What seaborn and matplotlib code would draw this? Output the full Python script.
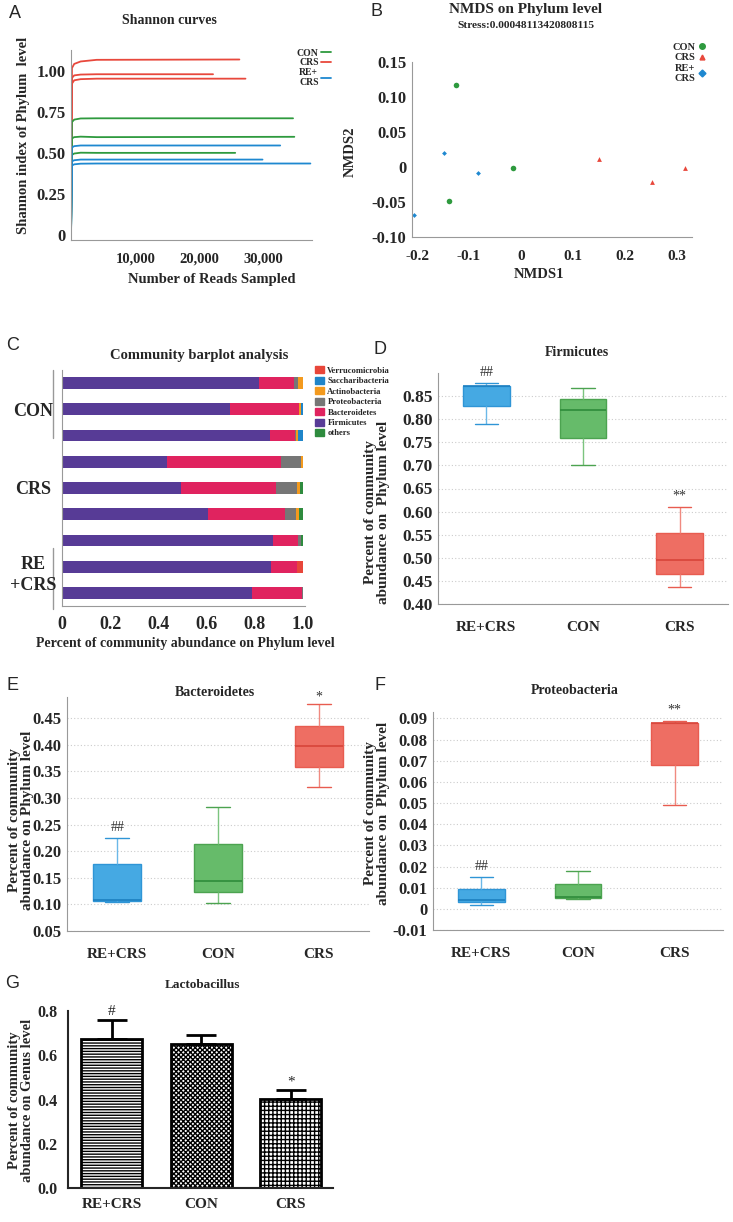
import numpy as np
import pandas as pd
import matplotlib
matplotlib.use("Agg")
import matplotlib.pyplot as plt
import seaborn as sns
from matplotlib.lines import Line2D
from matplotlib.patches import Patch

sns.set_style("white")
plt.rcParams['font.family'] = ['Liberation Serif', 'DejaVu Serif']
plt.rcParams['font.weight'] = 'bold'
plt.rcParams['axes.labelweight'] = 'bold'
plt.rcParams['hatch.linewidth'] = 1.0

# ---------------- data ----------------
# A: Shannon rarefaction curves (one list per sample)
shannon_group = ['CRS', 'CRS', 'CRS', 'CON', 'CON', 'CON', 'RE+CRS', 'RE+CRS', 'RE+CRS']
shannon_reads = [
    [0, 150, 500, 1500, 4000, 26200],
    [0, 150, 500, 1500, 4000, 22100],
    [0, 150, 500, 1500, 4000, 27150],
    [0, 150, 500, 1500, 4000, 34550],
    [0, 150, 500, 1500, 4000, 34750],
    [0, 150, 500, 1500, 4000, 25550],
    [0, 150, 500, 1500, 4000, 32550],
    [0, 150, 500, 1500, 4000, 29800],
    [0, 150, 500, 1500, 4000, 37250],
]
shannon_index = [
    [0, 1.02, 1.045, 1.06, 1.07, 1.072],
    [0, 0.96, 0.975, 0.98, 0.982, 0.982],
    [0, 0.925, 0.945, 0.952, 0.955, 0.955],
    [0, 0.69, 0.705, 0.712, 0.713, 0.713],
    [0, 0.59, 0.598, 0.601, 0.598, 0.600],
    [0, 0.49, 0.498, 0.503, 0.502, 0.502],
    [0, 0.535, 0.543, 0.547, 0.547, 0.547],
    [0, 0.45, 0.457, 0.461, 0.461, 0.461],
    [0, 0.425, 0.432, 0.436, 0.437, 0.437],
]

# B: NMDS coordinates
nmds_group = ['CON', 'CON', 'CON', 'CRS', 'CRS', 'CRS', 'RE+CRS', 'RE+CRS', 'RE+CRS']
nmds1 = [-0.125, -0.015, -0.138, 0.150, 0.252, 0.316, -0.148, -0.082, -0.207]
nmds2 = [0.117, -0.001, -0.049, 0.011, -0.021, -0.002, 0.020, -0.008, -0.068]

# C: community composition per sample (fractions)
c_samples = ['CON1', 'CON2', 'CON3', 'CRS1', 'CRS2', 'CRS3', 'REC1', 'REC2', 'REC3']
firmicutes = [0.820, 0.699, 0.865, 0.436, 0.495, 0.606, 0.875, 0.870, 0.789]
bacteroidetes = [0.143, 0.284, 0.102, 0.474, 0.395, 0.322, 0.106, 0.108, 0.208]
proteobacteria = [0.016, 0.003, 0.005, 0.085, 0.087, 0.046, 0.013, 0.000, 0.003]
actinobacteria = [0.021, 0.008, 0.008, 0.005, 0.013, 0.013, 0.000, 0.000, 0.000]
saccharibacteria = [0.000, 0.006, 0.020, 0.000, 0.000, 0.000, 0.000, 0.000, 0.000]
verrucomicrobia = [0.000, 0.000, 0.000, 0.000, 0.000, 0.000, 0.000, 0.022, 0.000]
others = [0.000, 0.000, 0.000, 0.000, 0.010, 0.013, 0.006, 0.000, 0.000]

# D-F: box summaries [min, q1, median, q3, max] per group
box_groups = ['RE+CRS', 'CON', 'CRS']
firm_box = [[0.790, 0.829, 0.871, 0.872, 0.878],
            [0.700, 0.760, 0.820, 0.844, 0.867],
            [0.437, 0.466, 0.4955, 0.553, 0.610]]
bact_box = [[0.104, 0.107, 0.109, 0.176, 0.225],
            [0.102, 0.123, 0.1435, 0.214, 0.284],
            [0.320, 0.358, 0.397, 0.435, 0.477]]
prot_box = [[0.0016, 0.0031, 0.0042, 0.0094, 0.0149],
            [0.0047, 0.0050, 0.0055, 0.0118, 0.0181],
            [0.0491, 0.0681, 0.0876, 0.0879, 0.0887]]

# G: Lactobacillus mean and error
lacto_mean = [0.675, 0.653, 0.402]
lacto_err = [0.086, 0.037, 0.039]

# ---------------- layout helpers ----------------
W, H = 733, 1222
fig = plt.figure(figsize=(W / 100, H / 100), dpi=100)


def rect(l, t, r, b):
    return [l / W, 1 - b / H, (r - l) / W, (b - t) / H]


def ftext(x, y, s, **kw):
    fig.text(x / W, 1 - y / H, s, **kw)


grey = '#999999'
col_con, col_crs, col_rec = '#2E9A3E', '#E8483C', '#1E88D0'

letters = {'A': (15, 13), 'B': (376, 12), 'C': (13, 345), 'D': (380, 349),
           'E': (13, 686), 'F': (380, 686), 'G': (12, 983)}
for k, (x, y) in letters.items():
    ftext(x, y, k, ha='center', va='center', fontsize=13, family='Liberation Sans',
          fontweight='normal')

# ---------------- A ----------------
axA = fig.add_axes(rect(71, 50, 312, 240))
rowsA = []
for i, (g, xs, ys) in enumerate(zip(shannon_group, shannon_reads, shannon_index)):
    for x, y in zip(xs, ys):
        rowsA.append({'sample': i, 'group': g, 'reads': x, 'shannon': y})
dfA = pd.DataFrame(rowsA)
sns.lineplot(data=dfA, x='reads', y='shannon', hue='group', units='sample', estimator=None,
             palette={'CON': col_con, 'CRS': col_crs, 'RE+CRS': col_rec},
             hue_order=['CRS', 'CON', 'RE+CRS'], linewidth=1.3, legend=False, ax=axA)
axA.set_xlim(0, 37500)
axA.set_ylim(-0.03, 1.13)
axA.set_xticks([10000, 20000, 30000], labels=['10,000', '20,000', '30,000'])
axA.set_yticks([0, 0.25, 0.5, 0.75, 1.0], labels=['0', '0.25', '0.50', '0.75', '1.00'])
axA.tick_params(axis='x', labelsize=10.5, length=3, color=grey, pad=6)
axA.tick_params(axis='y', labelsize=12, length=2, color=grey, pad=2)
axA.set_xlabel('')
axA.set_ylabel('')
sns.despine(ax=axA)
for s in ['left', 'bottom']:
    axA.spines[s].set_color(grey)
ftext(169, 20, 'Shannon curves', ha='center', va='center', fontsize=10)
ftext(212, 280, 'Number of Reads Sampled', ha='center', va='center', fontsize=10.5)
ftext(24, 135, 'Shannon index of Phylum  level', ha='center', va='center', fontsize=10.5,
      rotation=90)
handlesA = [Line2D([], [], color=c, lw=1.3) for c in [col_con, col_crs, col_rec]]
axA.legend(handlesA, ['CON', 'CRS', 'RE+\nCRS'], loc='upper right', markerfirst=False,
           bbox_to_anchor=(336 / W, 1 - 44 / H), bbox_transform=fig.transFigure,
           frameon=False, fontsize=7, handlelength=1.0, handletextpad=0.3,
           labelspacing=0.05, borderpad=0)

# ---------------- B ----------------
axB = fig.add_axes(rect(412, 62, 692, 237))
dfB = pd.DataFrame({'group': nmds_group, 'nmds1': nmds1, 'nmds2': nmds2})
b_markers = {'CON': 'o', 'CRS': '^', 'RE+CRS': 'D'}
b_sizes = {'CON': 16, 'CRS': 12, 'RE+CRS': 6}
b_colors = {'CON': col_con, 'CRS': col_crs, 'RE+CRS': col_rec}
for g in ['CON', 'CRS', 'RE+CRS']:
    sns.scatterplot(data=dfB[dfB['group'] == g], x='nmds1', y='nmds2', color=b_colors[g],
                    marker=b_markers[g], s=b_sizes[g], linewidth=0, ax=axB, clip_on=False)
axB.set_xlim(-0.21, 0.33)
axB.set_ylim(-0.10, 0.15)
axB.set_xticks([-0.2, -0.1, 0, 0.1, 0.2, 0.3], labels=['-0.2', '-0.1', '0', '0.1', '0.2', '0.3'])
axB.set_yticks([-0.10, -0.05, 0, 0.05, 0.10, 0.15],
               labels=['-0.10', '-0.05', '0', '0.05', '0.10', '0.15'])
axB.tick_params(axis='x', labelsize=11, length=3, color=grey, pad=6)
axB.tick_params(axis='y', labelsize=12, length=2, color=grey, pad=2)
axB.set_xlabel('')
axB.set_ylabel('')
sns.despine(ax=axB)
for s in ['left', 'bottom']:
    axB.spines[s].set_color(grey)
ftext(526, 10, 'NMDS on Phylum level', ha='center', va='center', fontsize=11)
ftext(526, 26, 'Stress:0.00048113420808115', ha='center', va='center', fontsize=8.2)
ftext(539, 275, 'NMDS1', ha='center', va='center', fontsize=10.5)
ftext(350, 152, 'NMDS2', ha='center', va='center', fontsize=10.5, rotation=90)
handlesB = [Line2D([], [], ls='', marker=b_markers[g], color=b_colors[g],
                   markersize=4 if g == 'CON' else 3.5) for g in ['CON', 'CRS', 'RE+CRS']]
axB.legend(handlesB, ['CON', 'CRS', 'RE+\nCRS'], loc='upper right', markerfirst=False,
           bbox_to_anchor=(710 / W, 1 - 37 / H), bbox_transform=fig.transFigure,
           frameon=False, fontsize=7.5, handlelength=0.6, handletextpad=0.3,
           labelspacing=0.15, borderpad=0)

# ---------------- C ----------------
axC = fig.add_axes(rect(62, 370, 305, 606))
layers = [('Firmicutes', firmicutes, '#573B96'),
          ('Bacteroidetes', bacteroidetes, '#E0235F'),
          ('Proteobacteria', proteobacteria, '#767676'),
          ('Actinobacteria', actinobacteria, '#F39A1E'),
          ('Saccharibacteria', saccharibacteria, '#1F85C9'),
          ('Verrucomicrobia', verrucomicrobia, '#E8463A'),
          ('others', others, '#2E8B3E')]
ypos = np.arange(len(c_samples))
left = np.zeros(len(c_samples))
for name, vals, col in layers:
    axC.barh(ypos, vals, left=left, height=0.45, color=col, linewidth=0)
    left = left + np.array(vals)
axC.set_ylim(8.5, -0.5)
axC.set_xlim(0, 1.01)
axC.set_yticks(np.arange(-0.5, 9, 1))
axC.set_yticklabels([])
axC.set_xticks([0, 0.2, 0.4, 0.6, 0.8, 1.0], labels=['0', '0.2', '0.4', '0.6', '0.8', '1.0'])
axC.tick_params(axis='x', labelsize=13, length=3, color=grey, pad=4)
axC.tick_params(axis='y', length=3, color=grey)
sns.despine(ax=axC)
for s in ['left', 'bottom']:
    axC.spines[s].set_color(grey)
ftext(199, 355, 'Community barplot analysis', ha='center', va='center', fontsize=10.5)
ftext(185, 643, 'Percent of community abundance on Phylum level', ha='center', va='center',
      fontsize=10)
ftext(33, 411, 'CON', ha='center', va='center', fontsize=13)
ftext(33, 490, 'CRS', ha='center', va='center', fontsize=13)
ftext(33, 575, 'RE\n+CRS', ha='center', va='center', fontsize=13, linespacing=1.35)
trC = matplotlib.transforms.blended_transform_factory(axC.transAxes, axC.transData)
axC.plot([-0.037, -0.037], [-0.5, 2.1], color=grey, lw=1, transform=trC, clip_on=False)
axC.plot([-0.037, -0.037], [6.3, 8.6], color=grey, lw=1, transform=trC, clip_on=False)
legend_order = ['Verrucomicrobia', 'Saccharibacteria', 'Actinobacteria', 'Proteobacteria',
                'Bacteroidetes', 'Firmicutes', 'others']
layer_col = {n: c for n, v, c in layers}
handlesC = [Patch(color=layer_col[n]) for n in legend_order]
axC.legend(handlesC, legend_order, loc='upper left', bbox_to_anchor=(311 / W, 1 - 362 / H),
           bbox_transform=fig.transFigure, frameon=False, fontsize=6.2, handlelength=1.0,
           handleheight=0.9, handletextpad=0.4, labelspacing=0.22, borderpad=0)

# ---------------- D-F boxplots ----------------
box_fill = ['#45A9E3', '#66BB6A', '#EE6E63']
box_edge = ['#2F95D6', '#4CA350', '#E85C50']
box_med = ['#1C7FC0', '#2E8B3A', '#D8453A']
box_whisk = ['#6BB8E8', '#7CC47F', '#F08A80']


def draw_box_panel(ax, stats, ylim, yticks, ylabels, marks, ysize=12):
    df = pd.DataFrame({'group': np.repeat(box_groups, 5), 'value': np.concatenate(stats)})
    for g, fc, ec, mc, wc in zip(box_groups, box_fill, box_edge, box_med, box_whisk):
        sns.boxplot(data=df[df['group'] == g], x='group', y='value', order=box_groups,
                    color=fc, linecolor=ec, linewidth=1.0, width=0.48, whis=(0, 100),
                    saturation=1, showfliers=False,
                    medianprops=dict(color=mc, linewidth=1.2),
                    whiskerprops=dict(color=wc), ax=ax)
    ax.set_xlim(-0.5, 2.5)
    ax.set_ylim(*ylim)
    ax.set_yticks(yticks, labels=ylabels)
    ax.set_xticks([0, 1, 2], labels=box_groups)
    ax.set_xticks([0.5, 1.5, 2.5], minor=True)
    ax.tick_params(axis='x', which='major', length=0, labelsize=11, pad=12)
    ax.tick_params(axis='x', which='minor', length=3, color=grey, direction='in')
    ax.tick_params(axis='y', labelsize=ysize, length=2, color=grey, pad=2)
    ax.yaxis.grid(True, linestyle=(0, (1, 2)), color='#cccccc', linewidth=0.8)
    ax.set_axisbelow(True)
    ax.set_xlabel('')
    ax.set_ylabel('')
    sns.despine(ax=ax)
    for s in ['left', 'bottom']:
        ax.spines[s].set_color(grey)
    for i, (txt, off) in enumerate(marks):
        if txt:
            ax.annotate(txt, (i, stats[i][4]), xytext=(0, off), textcoords='offset points',
                        ha='center', va='bottom', fontsize=10, fontweight='normal',
                        color='#333333', annotation_clip=False)


axD = fig.add_axes(rect(438, 373, 728, 604))
draw_box_panel(axD, firm_box, (0.40, 0.90), np.arange(0.40, 0.851, 0.05),
               ['0.40', '0.45', '0.50', '0.55', '0.60', '0.65', '0.70', '0.75', '0.80', '0.85'],
               [('##', 3), ('', 0), ('**', 3)], ysize=12.5)
ftext(577, 353, 'Firmicutes', ha='center', va='center', fontsize=10)
ftext(377, 512, 'Percent of community\nabundance on  Phylum level', ha='center', va='center',
      fontsize=11, rotation=90, linespacing=1.05)

axE = fig.add_axes(rect(67, 697, 369, 931))
draw_box_panel(axE, bact_box, (0.05, 0.49), np.arange(0.05, 0.451, 0.05),
               ['0.05', '0.10', '0.15', '0.20', '0.25', '0.30', '0.35', '0.40', '0.45'],
               [('##', 3), ('', 0), ('*', 0)])
ftext(215, 692, 'Bacteroidetes', ha='center', va='center', fontsize=10)
ftext(21, 820, 'Percent of community\nabundance on Phylum level', ha='center', va='center',
      fontsize=11, rotation=90, linespacing=1.05)

axF = fig.add_axes(rect(433, 712, 723, 930))
draw_box_panel(axF, prot_box, (-0.01, 0.093), np.arange(-0.01, 0.0901, 0.01),
               ['-0.01', '0', '0.01', '0.02', '0.03', '0.04', '0.05', '0.06', '0.07', '0.08',
                '0.09'],
               [('##', 3), ('', 0), ('**', 3)])
ftext(575, 690, 'Proteobacteria', ha='center', va='center', fontsize=10)
ftext(377, 813, 'Percent of community\nabundance on  Phylum level', ha='center', va='center',
      fontsize=11, rotation=90, linespacing=1.05)

# ---------------- G ----------------
axG = fig.add_axes(rect(68, 1011, 333, 1188))
sns.barplot(x=box_groups, y=lacto_mean, color='white', edgecolor='black', linewidth=2,
            width=0.68, errorbar=None, saturation=1, ax=axG)
for patch, hatch in zip(axG.patches, ['------', 'xxxxxxx', '++++']):
    patch.set_hatch(hatch)
axG.errorbar(x=[0, 1, 2], y=lacto_mean, yerr=[[0, 0, 0], lacto_err], fmt='none',
             ecolor='black', elinewidth=2, capsize=11, capthick=2, zorder=3)
axG.set_xlim(-0.49, 2.47)
axG.set_ylim(0, 0.8)
axG.set_yticks([0, 0.2, 0.4, 0.6, 0.8], labels=['0.0', '0.2', '0.4', '0.6', '0.8'])
axG.tick_params(axis='both', labelsize=11.5, length=4, width=1.5, color='black')
axG.tick_params(axis='x', labelsize=11)
axG.set_xlabel('')
axG.set_ylabel('')
sns.despine(ax=axG)
for s in ['left', 'bottom']:
    axG.spines[s].set_linewidth(1.5)
for i, txt in [(0, '#'), (2, '*')]:
    axG.annotate(txt, (i, lacto_mean[i] + lacto_err[i]), xytext=(0, 1),
                 textcoords='offset points', ha='center', va='bottom', fontsize=11,
                 fontweight='normal', annotation_clip=False)
ftext(202, 985, 'Lactobacillus', ha='center', va='center', fontsize=9.5)
ftext(21, 1100, 'Percent of community\nabundance on Genus level', ha='center', va='center',
      fontsize=10.5, rotation=90, linespacing=1.05)

fig.savefig('out.png', dpi=100)
